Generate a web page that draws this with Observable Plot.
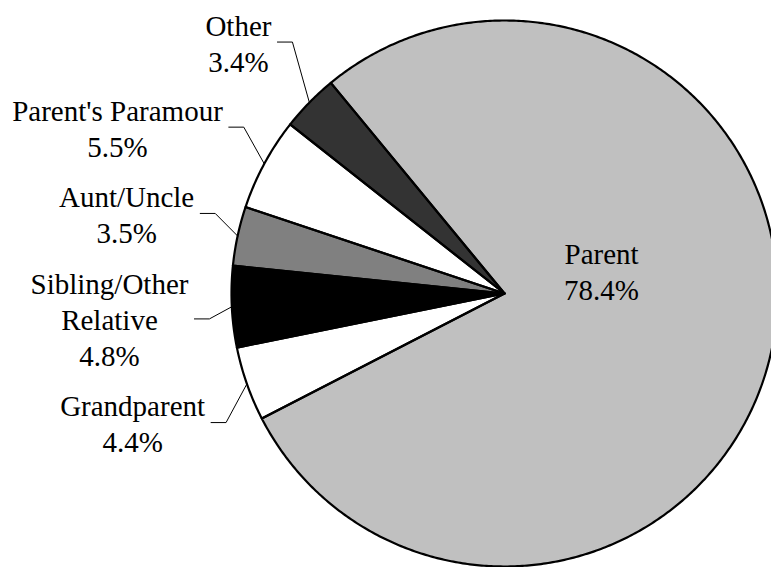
<!DOCTYPE html>
<html>
<head>
<meta charset="utf-8">
<script src="https://cdn.jsdelivr.net/npm/d3@7"></script>
<script src="https://cdn.jsdelivr.net/npm/@observablehq/plot@0.6"></script>
<style>
  html, body { margin: 0; padding: 0; background: #fff; overflow: hidden; }
</style>
</head>
<body>
<div id="chart"></div>
<script>
// ---- data ----
const categories = ["Parent", "Grandparent", "Sibling/Other Relative", "Aunt/Uncle", "Parent's Paramour", "Other"];
const shares = [78.4, 4.4, 4.8, 3.5, 5.5, 3.4];
const labelLines = [["Parent"], ["Grandparent"], ["Sibling/Other", "Relative"], ["Aunt/Uncle"], ["Parent's Paramour"], ["Other"]];

// ---- styles ----
const fills = ["#c0c0c0", "#ffffff", "#000000", "#808080", "#ffffff", "#333333"];
const FONT = "Liberation Serif";
const FS = 29, LH = 36;

// ---- layout ----
const W = 771, H = 567, CX = 504, CY = 293, R = 273;
const startAngle = -39.5;               // degrees clockwise from 12 o'clock
const labelDist = [0.365, 1.442, 1.45, 1.415, 1.543, 1.341];   // in radii
const labelShift = [-24.7, 0.2, -0.9, -0.2, -5.1, -1.0];       // degrees from slice middle

const total = d3.sum(shares);
const pt = (deg, r) => { const t = deg * Math.PI / 180; return [r * Math.sin(t), r * Math.cos(t)]; };

let acc = startAngle;
const slices = categories.map((c, i) => {
  const a0 = acc, a1 = acc + shares[i] / total * 360;
  acc = a1;
  return {c, i, a0, a1, mid: (a0 + a1) / 2};
});

const poly = slices.flatMap(s => {
  const n = Math.max(2, Math.ceil((s.a1 - s.a0) / 0.5));
  const pts = [{c: s.c, x: 0, y: 0}];
  for (let k = 0; k <= n; k++) {
    const [x, y] = pt(s.a0 + (s.a1 - s.a0) * k / n, 1);
    pts.push({c: s.c, x, y});
  }
  pts.push({c: s.c, x: 0, y: 0});
  return pts;
});

const ctx = document.createElement("canvas").getContext("2d");
ctx.font = `${FS}px "Liberation Serif"`;

const labels = slices.map(s => {
  const lines = [...labelLines[s.i], shares[s.i].toFixed(1) + "%"];
  const [x, y] = pt(s.mid + labelShift[s.i], labelDist[s.i]);
  const w = d3.max(lines, l => ctx.measureText(l).width);
  return {c: s.c, x, y, w, text: lines.join("\n"), outside: labelDist[s.i] > 1};
});

const leaders = labels.filter(l => l.outside).flatMap(l => {
  const s = slices.find(d => d.c === l.c);
  const ax = l.x + (l.w / 2 + 6) / R;
  const bx = ax + 15 / R;
  const [ex, ey] = pt(s.mid, 1);
  return [{c: l.c, x: ax, y: l.y}, {c: l.c, x: bx, y: l.y}, {c: l.c, x: ex, y: ey}];
});

const chart = Plot.plot({
  width: W, height: H, margin: 0,
  x: {domain: [-CX / R, (W - CX) / R], axis: null},
  y: {domain: [-(H - CY) / R, CY / R], axis: null},
  color: {type: "ordinal", domain: categories, range: fills},
  style: {background: "white", fontFamily: FONT},
  marks: [
    Plot.line(poly, {x: "x", y: "y", z: "c", fill: "c", stroke: "none"}),
    Plot.line(poly, {x: "x", y: "y", z: "c", fill: "none", stroke: "black", strokeWidth: 2.2, strokeLinejoin: "round"}),
    Plot.line(leaders, {x: "x", y: "y", z: "c", stroke: "black", strokeWidth: 1}),
    Plot.text(labels, {x: "x", y: "y", text: "text", fontSize: FS, fontFamily: FONT, lineHeight: LH / FS,
      fill: "black", textAnchor: "middle", lineAnchor: "middle"})
  ]
});
document.getElementById("chart").appendChild(chart);
</script>
</body>
</html>
